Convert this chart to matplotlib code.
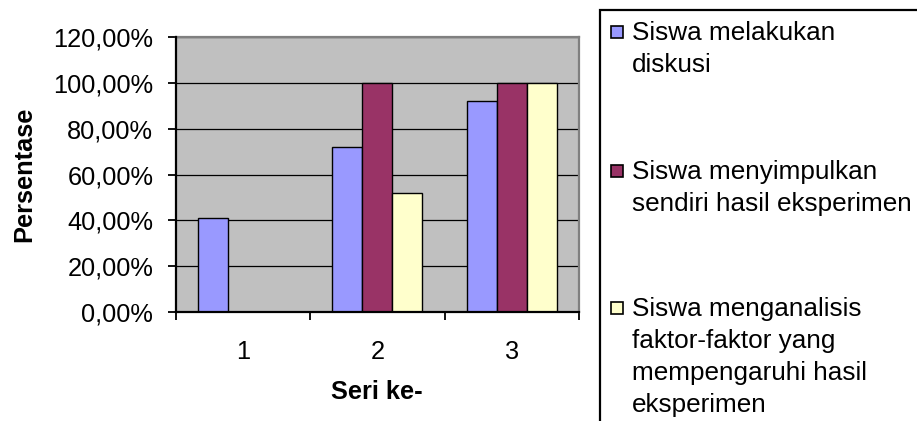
import matplotlib
matplotlib.use("Agg")
import matplotlib.pyplot as plt
from matplotlib.patches import Rectangle
import numpy as np

plt.rcParams['font.family'] = ['Liberation Sans', 'DejaVu Sans']

# Data
categories = ["1", "2", "3"]
series_labels = [
    "Siswa melakukan\ndiskusi",
    "Siswa menyimpulkan\nsendiri hasil eksperimen",
    "Siswa menganalisis\nfaktor-faktor yang\nmempengaruhi hasil\neksperimen",
]
diskusi = [0.41, 0.72, 0.92]
menyimpulkan = [0.0, 1.00, 1.00]
menganalisis = [0.0, 0.52, 1.00]
y_ticks = [0.0, 0.2, 0.4, 0.6, 0.8, 1.0, 1.2]
y_tick_labels = ["0,00%", "20,00%", "40,00%", "60,00%", "80,00%", "100,00%", "120,00%"]
colors = ["#9999FF", "#993366", "#FFFFCC"]

W, H = 917, 421
fig = plt.figure(figsize=(W / 100, H / 100), dpi=100)
fig.patch.set_facecolor("white")

ax = fig.add_axes([175.5 / W, 1 - 312 / H, (579 - 175.5) / W, (312 - 37) / H])
ax.set_facecolor("#C0C0C0")

x = np.arange(len(categories))
bw = 1 / 4.5
for i, (vals, col) in enumerate(zip([diskusi, menyimpulkan, menganalisis], colors)):
    ax.bar(x + (i - 1) * bw, vals, width=bw, color=col, edgecolor="black",
           linewidth=1.0, zorder=3)

ax.set_xlim(-0.5, len(categories) - 0.5)
ax.set_ylim(0, 1.2)

# gridlines
ax.set_yticks(y_ticks)
ax.set_yticklabels(y_tick_labels, fontsize=18.3)
ax.yaxis.grid(True, color="black", linewidth=0.9, zorder=1)
ax.set_axisbelow(True)

# category boundaries carry the tick marks, labels sit at the centres
ax.set_xticks(np.arange(-0.5, len(categories), 1.0))
ax.set_xticklabels([])
ax.set_xticks(x, minor=True)
ax.set_xticklabels(categories, minor=True, fontsize=18.3)
ax.tick_params(axis="x", which="major", direction="out", length=6, width=1.3, color="black")
ax.tick_params(axis="x", which="minor", length=0, pad=20)
ax.tick_params(axis="y", direction="out", length=6, width=1.3, pad=10)

for side in ("left", "bottom"):
    ax.spines[side].set_color("black")
    ax.spines[side].set_linewidth(1.6)
    ax.spines[side].set_zorder(4)
for side in ("top", "right"):
    ax.spines[side].set_color("#808080")
    ax.spines[side].set_linewidth(1.6)

ax.set_ylabel("Persentase", fontsize=18.3, fontweight="bold", labelpad=12)
ax.set_xlabel("Seri ke-", fontsize=18.3, fontweight="bold", labelpad=12)

# legend panel, running off the right and bottom edges
box = Rectangle((600 / W, -0.2), 1.0, 1.2 - 9.5 / H, transform=fig.transFigure,
                facecolor="white", edgecolor="black", linewidth=1.6, clip_on=True)
fig.add_artist(box)

first_line = [33, 172, 309]
line_step = 32
for label, col, y0 in zip(series_labels, colors, first_line):
    fig.add_artist(Rectangle((611 / W, 1 - (y0 + 5) / H), 12 / W, 12 / H,
                             transform=fig.transFigure, facecolor=col,
                             edgecolor="black", linewidth=1.2))
    for k, line in enumerate(label.split("\n")):
        fig.text(632 / W, 1 - (y0 + k * line_step) / H, line, fontsize=18.8,
                 va="center", ha="left")

fig.savefig("out.png", dpi=100)
